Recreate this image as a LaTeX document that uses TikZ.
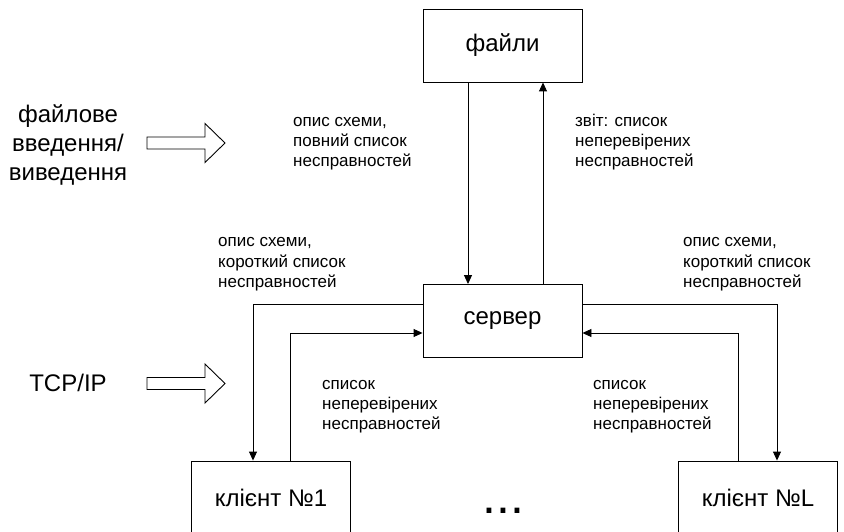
\documentclass[tikz,border=0pt]{standalone}
\usepackage{fontspec}
\setmainfont{Liberation Sans}
\usetikzlibrary{arrows.meta}
\begin{document}
\begin{tikzpicture}[x=1pt,y=-1pt,
  box/.style={draw, line width=0.9pt, minimum width=159pt, minimum height=73pt,
    inner sep=0pt, font=\fontsize{24}{28}\selectfont},
  conn/.style={line width=0.9pt, -{Triangle[length=9pt,width=8pt]}},
  % multi-line labels: the base anchor sits on the last line
  lbl/.style={anchor=base west, align=left, inner sep=0pt,
    font=\fontsize{17}{20}\selectfont},
  side/.style={align=center, inner sep=0pt, font=\fontsize{24}{29}\selectfont},
  pics/hollowarrow/.style={code={
    \draw[line width=0.9pt] (-39,-6) -- (19,-6) -- (19,-19.5) -- (39,0)
      -- (19,19.5) -- (19,6) -- (-39,6) -- cycle;}}
]
\useasboundingbox (0,0) rectangle (844,532);

% blocks
\node[box] (files)   at (502.5,45.5)  {файли};
\node[box] (server)  at (502.5,321)   {сервер};
\node[box] (client1) at (271,497.5)   {клієнт №1};
\node[box] (clientL) at (758,497.5)   {клієнт №L};

% file exchange
\draw[conn] ([xshift=-34.5pt]files.south) -- ([xshift=-34.5pt]server.north);
\draw[conn] ([xshift=40.5pt]server.north) -- ([xshift=40.5pt]files.south);

% network exchange
\draw[conn] ([yshift=17pt]server.west) -| ([xshift=-18pt]client1.north);
\draw[conn] ([xshift=19pt]client1.north) |- ([yshift=-12pt]server.west);
\draw[conn] ([yshift=17pt]server.east) -| ([xshift=19pt]clientL.north);
\draw[conn] ([xshift=-20pt]clientL.north) |- ([yshift=-12pt]server.east);

% message labels
\node[lbl] (msgFull)   at (293,167) {опис схеми,\\повний список\\несправностей};
\node[lbl] (msgReport) at (575,167) {звіт: список\\неперевірених\\несправностей};
\node[lbl] (msgShortA) at (218,287) {опис схеми,\\короткий список\\несправностей};
\node[lbl] (msgShortB) at (683,287) {опис схеми,\\короткий список\\несправностей};
\node[lbl] (msgListA)  at (322,429) {список\\неперевірених\\несправностей};
\node[lbl] (msgListB)  at (593,429) {список\\неперевірених\\несправностей};

% channel legend
\node[side] (fileio) at (68,145) {файлове\\введення/\\виведення};
\node[side] (tcp)    at (68,383) {TCP/IP};
\pic at (186,143)   {hollowarrow};
\pic at (186,383.5) {hollowarrow};

% more clients
\node[anchor=base, inner sep=0pt, font=\fontsize{50}{50}\selectfont] (dots)
  at (503.5,513) {...};
\end{tikzpicture}
\end{document}
